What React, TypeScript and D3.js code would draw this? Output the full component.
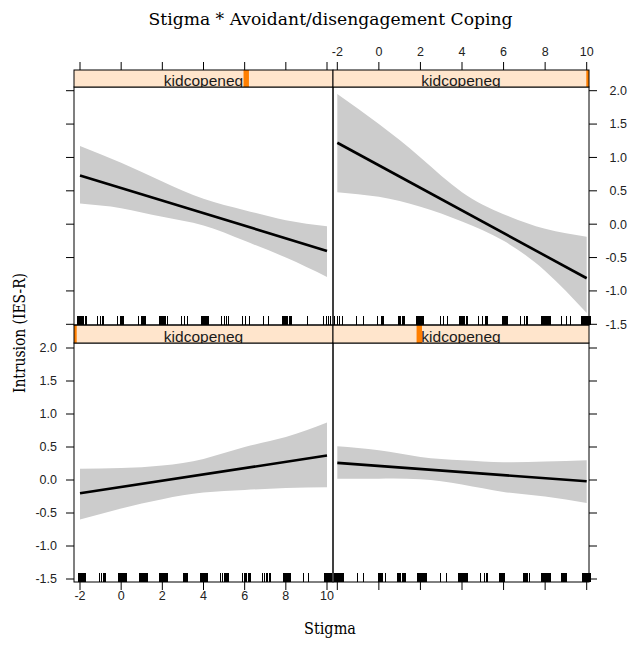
import React from "react";
import * as d3 from "d3";

const title = "Stigma * Avoidant/disengagement Coping";
const xLabel = "Stigma";
const yLabel = "Intrusion (IES-R)";
const stripLabel = "kidcopeneg";
const xTicks = [-2, 0, 2, 4, 6, 8, 10];
const yTicks = [-1.5, -1.0, -0.5, 0.0, 0.5, 1.0, 1.5, 2.0];
const bandX = [-2, 0, 2, 4, 6, 8, 10];
const fitX = [-2, 10];

// panels: 1 bottom-left, 2 bottom-right, 3 top-left, 4 top-right
const levelPos = [0, 0.337, 0.665, 1];

const fit1 = [-0.2, 0.37];
const upper1 = [0.17, 0.18, 0.22, 0.32, 0.5, 0.65, 0.87];
const lower1 = [-0.6, -0.43, -0.29, -0.19, -0.15, -0.12, -0.11];

const fit2 = [0.26, -0.02];
const upper2 = [0.51, 0.45, 0.35, 0.3, 0.27, 0.28, 0.3];
const lower2 = [0.02, 0.02, 0.01, -0.07, -0.18, -0.25, -0.35];

const fit3 = [0.73, -0.4];
const upper3 = [1.17, 0.92, 0.64, 0.38, 0.21, 0.06, -0.03];
const lower3 = [0.31, 0.24, 0.11, -0.02, -0.25, -0.5, -0.79];

const fit4 = [1.22, -0.81];
const upper4 = [1.95, 1.5, 1.0, 0.48, 0.15, -0.07, -0.19];
const lower4 = [0.48, 0.41, 0.26, 0.04, -0.25, -0.7, -1.33];

const rug1 = [
  -2.08, -2.04, -2.0, -1.96, -1.92, -1.88, -1.84, -1.8, -1.76,
  -1.06, -0.99, -0.9, -0.85, -0.79,
  -0.15, -0.1, -0.05, 0.0, 0.05, 0.1, 0.15, 0.2, 0.25,
  0.87, 0.92, 0.97, 1.02, 1.07, 1.12, 1.17, 1.22, 1.26,
  1.84, 1.89, 1.94, 1.99, 2.04, 2.09, 2.14, 2.19, 2.23,
  2.99, 3.04, 3.09, 3.14, 3.19,
  3.83, 3.88, 3.93, 3.98, 4.03, 4.08, 4.13, 4.18,
  4.8, 4.9, 4.98, 5.05, 5.1, 5.15, 5.2,
  5.86, 5.95, 6.02, 6.08, 6.14, 6.2, 6.26,
  6.83, 6.95, 7.02, 7.1, 7.17, 7.23,
  7.85, 7.9, 7.95, 8.0, 8.05, 8.1, 8.15, 8.2,
  8.82, 9.09,
  9.86, 9.91, 9.96, 10.01, 10.06, 10.11, 10.16, 10.21,
];

const rug2 = [
  -2.16, -2.11, -2.06, -2.01, -1.96, -1.91, -1.86, -1.81, -1.76, -1.71,
  -1.07, -0.75,
  -0.03, 0.02, 0.07, 0.12, 0.15, 0.3,
  0.89, 0.94, 0.99, 1.04, 1.09, 1.14, 1.19, 1.24,
  1.82, 1.87, 1.92, 1.97, 2.02, 2.07, 2.12, 2.17, 2.22, 2.27,
  2.94, 3.23,
  3.79, 3.84, 3.89, 3.94, 3.99, 4.04, 4.09, 4.14, 4.19, 4.23,
  4.87, 5.05, 5.15, 5.19, 5.22,
  5.78, 5.83, 5.88, 5.93, 5.98, 6.02,
  6.95, 7.0, 7.05, 7.1, 7.15, 7.2, 7.24,
  7.79, 7.84, 7.89, 7.94, 7.99, 8.04, 8.09, 8.14, 8.19, 8.24,
  8.75, 8.8, 8.85, 8.9, 8.95, 9.0,
  9.76, 9.81, 9.86, 9.91, 9.96, 10.01, 10.06, 10.11, 10.15,
];

const rug3 = [
  -2.13, -2.08, -2.03, -1.98, -1.93, -1.88, -1.83, -1.78, -1.73,
  -1.16, -1.05, -0.95, -0.87,
  -0.19, -0.05, 0.0, 0.05, 0.1,
  0.83, 0.97, 1.02, 1.07, 1.12, 1.16,
  1.85, 1.9, 1.95, 2.0, 2.05, 2.1, 2.15, 2.21,
  2.89, 3.03, 3.2,
  3.86, 3.91, 3.96, 4.01, 4.06, 4.11, 4.16, 4.21,
  4.84, 4.98, 5.08, 5.2,
  5.86, 6.0, 6.2,
  6.88, 7.15,
  7.83, 7.88, 7.93, 7.98, 8.03, 8.08, 8.13, 8.18, 8.24,
  9.05,
  9.8, 9.95, 10.05, 10.15,
];

const rug4 = [
  -2.15, -2.03, -1.9, -1.77,
  -1.1, -0.75,
  -0.1, 0.1, 0.14, 0.18, 0.2,
  0.94, 0.99, 1.04, 1.09, 1.14, 1.19, 1.21,
  1.79, 1.84, 1.89, 1.94, 1.99, 2.04, 2.09, 2.14,
  2.94, 3.1, 3.26,
  3.87, 3.92, 3.97, 4.02, 4.07, 4.12, 4.17, 4.23,
  4.79, 4.95, 5.1, 5.15, 5.19,
  5.91, 5.96, 6.01, 6.06, 6.11, 6.15,
  6.79, 7.0, 7.07, 7.12,
  7.79, 7.84, 7.89, 7.94, 7.99, 8.04, 8.09, 8.14, 8.19, 8.24,
  8.77, 8.98, 9.2,
  9.72, 9.77, 9.82, 9.87, 9.92, 9.97, 10.02, 10.07, 10.12, 10.15,
];

const panels = [
  { col: 0, row: 1, fit: fit1, upper: upper1, lower: lower1, rug: rug1, level: levelPos[0] },
  { col: 1, row: 1, fit: fit2, upper: upper2, lower: lower2, rug: rug2, level: levelPos[1] },
  { col: 0, row: 0, fit: fit3, upper: upper3, lower: lower3, rug: rug3, level: levelPos[2] },
  { col: 1, row: 0, fit: fit4, upper: upper4, lower: lower4, rug: rug4, level: levelPos[3] },
];

const cols = [
  { x0: 74, x1: 333, scale: d3.scaleLinear().domain([-2, 10]).range([80, 327]) },
  { x0: 333, x1: 589, scale: d3.scaleLinear().domain([-2, 10]).range([337.3, 586.7]) },
];
const rows = [
  { s0: 70, s1: 87, y0: 87, y1: 325, scale: d3.scaleLinear().domain([-1.5, 2]).range([324.3, 90.7]) },
  { s0: 325, s1: 343, y0: 343, y1: 582, scale: d3.scaleLinear().domain([-1.5, 2]).range([579, 348]) },
];

const fmtY = (v: number) => v.toFixed(1);
const tickFont = "Liberation Sans, Arial, sans-serif";
const serif = "DejaVu Serif, serif";
const tickSize = 12.5;

export default function App() {
  return (
    <div style={{ position: "absolute", left: 0, top: 0 }}>
      <svg width={630} height={651} style={{ display: "block", background: "#fff" }}>
        <defs>
          {panels.map((p, i) => {
            const c = cols[p.col];
            const r = rows[p.row];
            return (
              <clipPath id={`strip${i}`} key={i}>
                <rect x={c.x0} y={r.s0} width={c.x1 - c.x0} height={r.s1 - r.s0} />
              </clipPath>
            );
          })}
        </defs>
        <rect x={0} y={0} width={630} height={651} fill="#fff" />
        {panels.map((p, i) => {
          const c = cols[p.col];
          const r = rows[p.row];
          const xs = c.scale;
          const ys = r.scale;
          const area = d3
            .area<number>()
            .x((_, k) => xs(bandX[k]))
            .y0((_, k) => ys(p.lower[k]))
            .y1((d) => ys(d))
            .curve(d3.curveNatural);
          const line = d3
            .line<number>()
            .x((_, k) => xs(fitX[k]))
            .y((d) => ys(d));
          const barX = c.x0 + p.level * (c.x1 - c.x0);
          return (
            <g key={i}>
              <path d={area(p.upper) || ""} fill="#cccccc" />
              <path d={line(p.fit) || ""} fill="none" stroke="#000" strokeWidth={2.6} />
              {p.rug.map((v, k) => (
                <line
                  key={k}
                  x1={Math.round(xs(v)) + 0.5}
                  x2={Math.round(xs(v)) + 0.5}
                  y1={r.y1}
                  y2={r.y1 - 9}
                  stroke="#000"
                  strokeWidth={1.2}
                  shapeRendering="crispEdges"
                />
              ))}
              <rect
                x={c.x0}
                y={r.y0}
                width={c.x1 - c.x0}
                height={r.y1 - r.y0}
                fill="none"
                stroke="#000"
                strokeWidth={1}
              />
              <g clipPath={`url(#strip${i})`}>
                <rect x={c.x0} y={r.s0} width={c.x1 - c.x0} height={r.s1 - r.s0} fill="#ffe5cc" />
                <rect x={barX - 2.7} y={r.s0} width={5.4} height={r.s1 - r.s0} fill="#ff7f00" />
                <text
                  x={(c.x0 + c.x1) / 2}
                  y={r.s1 - 1.5}
                  textAnchor="middle"
                  fontFamily={tickFont}
                  fontSize={15.5}
                  fill="#1a1a1a"
                >
                  {stripLabel}
                </text>
              </g>
              <rect
                x={c.x0}
                y={r.s0}
                width={c.x1 - c.x0}
                height={r.s1 - r.s0}
                fill="none"
                stroke="#000"
                strokeWidth={1}
              />
            </g>
          );
        })}

        {cols.map((c, ci) => (
          <g key={`top${ci}`}>
            {xTicks.map((t) => (
              <g key={t}>
                <line x1={c.scale(t)} x2={c.scale(t)} y1={rows[0].s0} y2={rows[0].s0 - 8} stroke="#000" />
                {ci === 1 && (
                  <text x={c.scale(t)} y={56} textAnchor="middle" fontFamily={tickFont} fontSize={tickSize} fill="#222">
                    {String(t)}
                  </text>
                )}
              </g>
            ))}
          </g>
        ))}
        {cols.map((c, ci) => (
          <g key={`bot${ci}`}>
            {xTicks.map((t) => (
              <g key={t}>
                <line x1={c.scale(t)} x2={c.scale(t)} y1={rows[1].y1} y2={rows[1].y1 + 8} stroke="#000" />
                {ci === 0 && (
                  <text x={c.scale(t)} y={600} textAnchor="middle" fontFamily={tickFont} fontSize={tickSize} fill="#222">
                    {String(t)}
                  </text>
                )}
              </g>
            ))}
          </g>
        ))}
        {rows.map((r, ri) => (
          <g key={`left${ri}`}>
            {yTicks.map((t) => (
              <g key={t}>
                <line x1={cols[0].x0} x2={cols[0].x0 - 8} y1={r.scale(t)} y2={r.scale(t)} stroke="#000" />
                {ri === 1 && (
                  <text
                    x={57}
                    y={r.scale(t)}
                    dy="0.35em"
                    textAnchor="end"
                    fontFamily={tickFont}
                    fontSize={tickSize}
                    fill="#222"
                  >
                    {fmtY(t)}
                  </text>
                )}
              </g>
            ))}
          </g>
        ))}
        {rows.map((r, ri) => (
          <g key={`right${ri}`}>
            {yTicks.map((t) => (
              <g key={t}>
                <line x1={cols[1].x1} x2={cols[1].x1 + 8} y1={r.scale(t)} y2={r.scale(t)} stroke="#000" />
                {ri === 0 && (
                  <text
                    x={627}
                    y={r.scale(t)}
                    dy="0.35em"
                    textAnchor="end"
                    fontFamily={tickFont}
                    fontSize={tickSize}
                    fill="#222"
                  >
                    {fmtY(t)}
                  </text>
                )}
              </g>
            ))}
          </g>
        ))}

        <text
          x={330.5}
          y={25}
          textAnchor="middle"
          fontFamily={serif}
          fontSize={17}
          textLength={364}
          lengthAdjust="spacingAndGlyphs"
          fill="#000"
        >
          {title}
        </text>
        <text
          transform="translate(25,333) rotate(-90)"
          textAnchor="middle"
          fontFamily={serif}
          fontSize={16.5}
          textLength={120}
          lengthAdjust="spacingAndGlyphs"
          fill="#000"
        >
          {yLabel}
        </text>
        <text
          x={330}
          y={634}
          textAnchor="middle"
          fontFamily={serif}
          fontSize={17}
          textLength={52}
          lengthAdjust="spacingAndGlyphs"
          fill="#000"
        >
          {xLabel}
        </text>
      </svg>
    </div>
  );
}
